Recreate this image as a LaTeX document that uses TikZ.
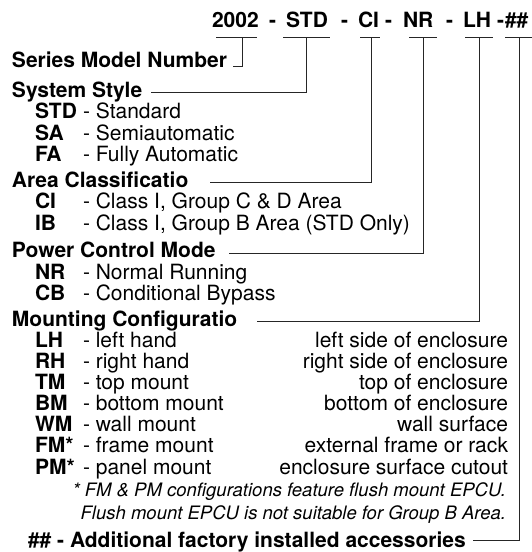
\documentclass[tikz,border=0pt]{standalone}
\usepackage{fontspec}
\setmainfont{TeX Gyre Heros}
\usetikzlibrary{calc}
\begin{document}
\begin{tikzpicture}[x=1pt,y=-1pt,
  every node/.style={inner sep=0pt, outer sep=0pt, font=\fontsize{21}{21}\selectfont},
  code/.style={anchor=base west, font=\fontsize{21}{21}\selectfont\bfseries},
  head/.style={anchor=base west, font=\fontsize{21}{21}\selectfont\bfseries},
  key/.style={anchor=base west, font=\fontsize{21}{21}\selectfont\bfseries},
  desc/.style={anchor=base west},
  rdesc/.style={anchor=base east},
  note/.style={anchor=base east, font=\fontsize{18.5}{18.5}\selectfont\itshape},
  link/.style={line width=0.8pt, draw=black!85}
]
\useasboundingbox (0,0) rectangle (532,552);

% title code
\node[code] (t2002) at (212,27) {2002};
\node[code] (m1) at (269,27) {-};
\node[code] (tSTD) at (286,27) {STD};
\node[code] (m2) at (341,27) {-};
\node[code] (tCI) at (358,27) {CI};
\node[code] (m3) at (385,27) {-};
\node[code] (tNR) at (403,27) {NR};
\node[code] (m4) at (446,27) {-};
\node[code] (tLH) at (463,27) {LH};
\node[code] (m5) at (497,27) {-};
\node[code] (tHH) at (505,27) {\#\#};

% connector tops (under each code)
\coordinate (s2002) at (242,37);
\coordinate (sSTD) at (306,37);
\coordinate (sCI) at (371,37);
\coordinate (sNR) at (423,37);
\coordinate (sLH) at (479,37);
\coordinate (sHH) at (519,37);

% underlines
\draw[link] ([xshift=-26pt]s2002) -- ([xshift=15pt]s2002);
\draw[link] ([xshift=-23pt]sSTD) -- ([xshift=24pt]sSTD);
\draw[link] ([xshift=-11pt]sCI) -- ([xshift=9pt]sCI);
\draw[link] ([xshift=-14pt]sNR) -- ([xshift=14pt]sNR);
\draw[link] ([xshift=-14pt]sLH) -- ([xshift=14pt]sLH);
\draw[link] ([xshift=-14pt]sHH) -- ([xshift=13pt]sHH);

% headings
\node[head] (hSeries) at (12,67) {Series Model Number};
\node[head] (hSys) at (12,97) {System Style};
\node[head] (hArea) at (12,187) {Area Classificatio};
\node[head] (hPow) at (12,257) {Power Control Mode};
\node[head] (hMount) at (12,326) {Mounting Configuratio};
\node[head] (hAcc) at (28,547) {\#\# - Additional factory installed accessories};

% system style
\node[key] (kSTD) at (35,118) {STD};
\node[desc] (dSTD) at (83,118) {- Standard};
\node[key] (kSA) at (35,140) {SA};
\node[desc] (dSA) at (83,140) {- Semiautomatic};
\node[key] (kFA) at (35,161) {FA};
\node[desc] (dFA) at (83,161) {- Fully Automatic};

% area
\node[key] (kCI) at (35,208) {CI};
\node[desc] (dCI) at (83,208) {- Class I, Group C \& D Area};
\node[key] (kIB) at (35,230) {IB};
\node[desc] (dIB) at (83,230) {- Class I, Group B Area (STD Only)};

% power
\node[key] (kNR) at (35,279) {NR};
\node[desc] (dNR) at (83,279) {- Normal Running};
\node[key] (kCB) at (35,300) {CB};
\node[desc] (dCB) at (83,300) {- Conditional Bypass};

% mounting
\node[key] (kLH) at (35,347) {LH};
\node[desc] (dLH) at (83,347) {- left hand};
\node[rdesc] (rLH) at (508,347) {left side of enclosure};
\node[key] (kRH) at (35,368) {RH};
\node[desc] (dRH) at (83,368) {- right hand};
\node[rdesc] (rRH) at (508,368) {right side of enclosure};
\node[key] (kTM) at (35,389) {TM};
\node[desc] (dTM) at (83,389) {- top mount};
\node[rdesc] (rTM) at (508,389) {top of enclosure};
\node[key] (kBM) at (35,410) {BM};
\node[desc] (dBM) at (83,410) {- bottom mount};
\node[rdesc] (rBM) at (508,410) {bottom of enclosure};
\node[key] (kWM) at (35,431) {WM};
\node[desc] (dWM) at (83,431) {- wall mount};
\node[rdesc] (rWM) at (508,431) {wall surface};
\node[key] (kFM) at (35,452) {FM*};
\node[desc] (dFM) at (83,452) {- frame mount};
\node[rdesc] (rFM) at (508,452) {external frame or rack};
\node[key] (kPM) at (35,474) {PM*};
\node[desc] (dPM) at (83,474) {- panel mount};
\node[rdesc] (rPM) at (508,474) {enclosure surface cutout};

\node[note] (n1) at (506,496) {* FM \& PM configurations feature flush mount EPCU.};
\node[note] (n2) at (506,519) {Flush mount EPCU is not suitable for Group B Area.};

% connectors
\draw[link] (s2002) |- ([xshift=6pt,yshift=1pt]hSeries.base east);
\draw[link] (sSTD) |- ([xshift=9pt,yshift=5pt]hSys.base east);
\draw[link] (sCI) |- ([xshift=22pt,yshift=5pt]hArea.base east);
\draw[link] (sNR) |- ([xshift=13pt,yshift=4pt]hPow.base east);
\draw[link] (sLH) |- ([xshift=20pt,yshift=5pt]hMount.base east);
\draw[link] (sHH) |- ([xshift=7pt,yshift=7pt]hAcc.base east);
\end{tikzpicture}
\end{document}
